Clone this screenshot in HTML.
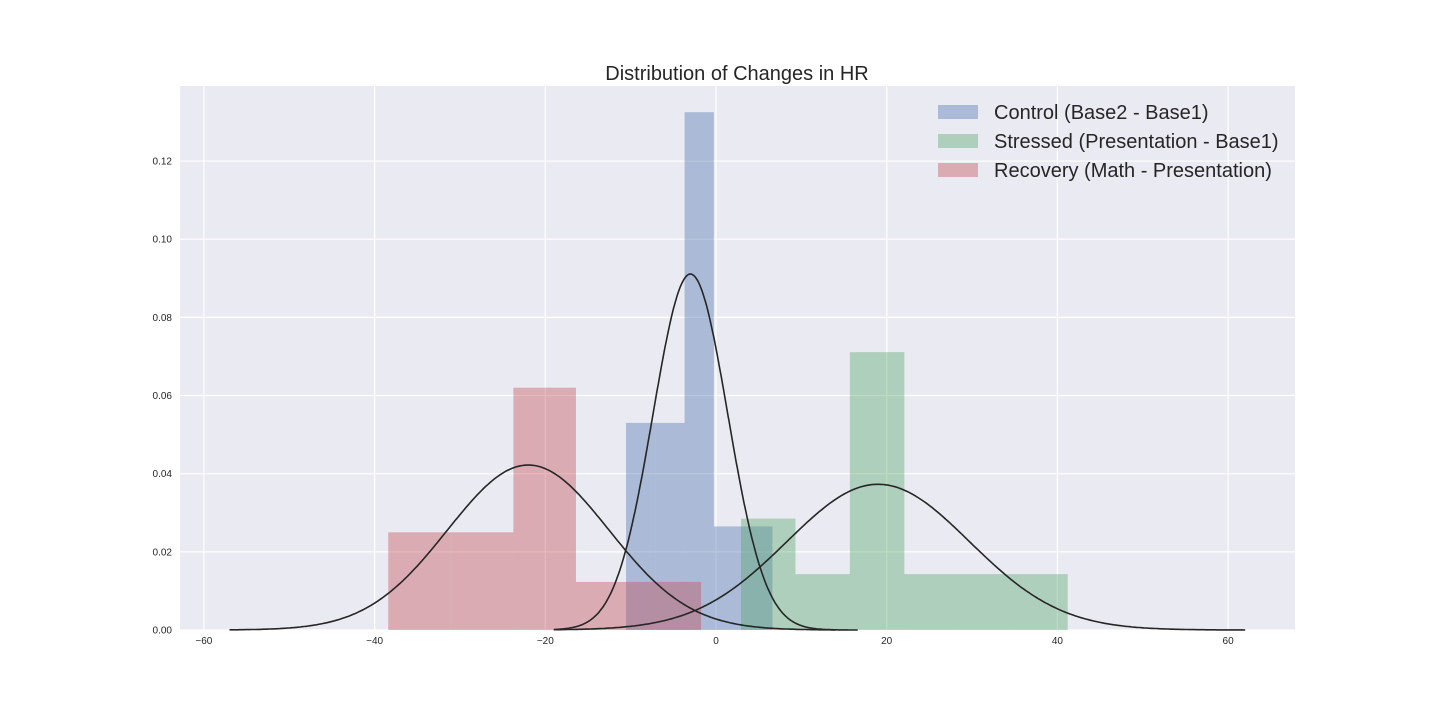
<!DOCTYPE html>
<html><head><meta charset="utf-8"><style>
body{margin:0;background:#fff;}
svg text{font-family:"Liberation Sans",Arial,sans-serif;}
</style></head><body>
<svg width="1440" height="720" id="chart">
</svg>
<script>
const redEdges=[-38.4,-31.07,-23.74,-16.41,-9.08,-1.75];
const redHeights=[0.025,0.025,0.062,0.0123,0.0123];
const blueEdges=[-10.54,-7.11,-3.68,-0.25,3.18,6.61];
const blueHeights=[0.053,0.053,0.1325,0.0265,0.0265];
const greenEdges=[2.93,9.31,15.69,22.07,28.45,34.83,41.21];
const greenHeights=[0.0285,0.0143,0.0711,0.0143,0.0143,0.0143];
const kdeMeans=[-22,-3,19];
const kdeSigmas=[9.45,4.38,10.7];
const kdeRanges=[[-57,14],[-19,16.6],[-19,62]];
const xTicks=[-60,-40,-20,0,20,40,60];
const yTicks=[0,0.02,0.04,0.06,0.08,0.1,0.12];
const legendLabels=["Control (Base2 - Base1)","Stressed (Presentation - Base1)","Recovery (Math - Presentation)"];

const L=180,R=1295,T=86,B=630;
const X=v=>716+v*8.535;
const Y=v=>630-v*3908;
const svg=document.getElementById('chart');
const NS="http://www.w3.org/2000/svg";
function mk(tag,attrs,parent){const e=document.createElementNS(NS,tag);for(const k in attrs)e.setAttribute(k,attrs[k]);(parent||svg).appendChild(e);return e;}
const bg=mk('rect',{x:L,y:T,width:R-L,height:B-T,fill:'#eaeaf2'});


xTicks.forEach(t=>{
 const g=mk('line',{x1:X(t),x2:X(t),y1:T,y2:B,stroke:'#fff','stroke-width':1.2});
 
 
 const tx=mk('text',{x:X(t),y:B+14,'text-anchor':'middle','font-size':10,fill:'#262626'});
 tx.textContent=t<0?'\u2212'+(-t):String(t);
 
 
});
yTicks.forEach(t=>{
 const g=mk('line',{x1:L,x2:R,y1:Y(t),y2:Y(t),stroke:'#fff','stroke-width':1.2});
 
 
 const tx=mk('text',{x:L-8,y:Y(t)+3.5,'text-anchor':'end','font-size':10,fill:'#262626'});
 tx.textContent=t.toFixed(2);
 
 
});
function hist(edges,h,color,name){
 h.forEach((v,i)=>{
  const r=mk('rect',{x:X(edges[i]),y:Y(v),width:X(edges[i+1])-X(edges[i]),height:Y(0)-Y(v),fill:color,'fill-opacity':0.4});
  
  
 });
}
hist(blueEdges,blueHeights,'#4c72b0','control');
hist(greenEdges,greenHeights,'#55a868','stressed');
hist(redEdges,redHeights,'#c44e52','recovery');
const kdeNames=['recovery-kde','control-kde','stressed-kde'];
kdeMeans.forEach((m,i)=>{
 const s=kdeSigmas[i],[a,b]=kdeRanges[i];let d='';
 for(let k=0;k<=300;k++){const x=a+(b-a)*k/300;const y=Math.exp(-0.5*((x-m)/s)**2)/(s*Math.sqrt(2*Math.PI));d+=(k?'L':'M')+X(x).toFixed(1)+','+Y(y).toFixed(1);}
 const p=mk('path',{d:d,fill:'none',stroke:'#262626','stroke-width':1.6});
 
 
});
const title=mk('text',{x:737,y:80,'text-anchor':'middle','font-size':20,fill:'#262626'});
title.textContent='Distribution of Changes in HR';


const cols=['#4c72b0','#55a868','#c44e52'];
legendLabels.forEach((lab,i)=>{
 const y=112+i*29;
 const r=mk('rect',{x:938,y:y-7,width:40,height:14,fill:cols[i],'fill-opacity':0.4});
 
 
 const t=mk('text',{x:994,y:y+7,'font-size':20,fill:'#262626'});
 t.textContent=lab;
 
 
});
</script>
</body></html>
